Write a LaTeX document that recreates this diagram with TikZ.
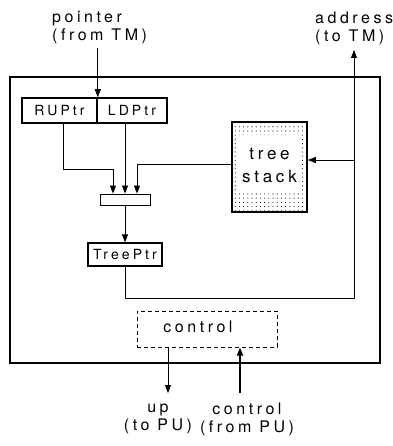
\documentclass[tikz,border=0pt]{standalone}
\usepackage{fontspec}
\setmainfont{TeX Gyre Heros}[LetterSpace=22]
\usetikzlibrary{arrows.meta,patterns.meta}
\begin{document}
\begin{tikzpicture}[x=1pt,y=-1pt,
  font=\fontsize{16}{18}\selectfont,
  arr/.style={-{Triangle[length=8pt,width=6pt]}, line width=0.8pt},
  reg/.style={draw, line width=1.6pt, inner sep=0pt, font=\fontsize{14}{16}\selectfont},
  lbl/.style={align=center, inner sep=0pt},
]
\useasboundingbox (0,0) rectangle (392,446);
% outer box
\node[draw, line width=1.4pt, minimum width=370pt, minimum height=286pt, inner sep=0pt] (outer) at (195,220) {};
% labels
\node[lbl, align=left, anchor=west] (pointer) at (52,28) {pointer\\(from TM)};
\node[lbl, align=left, anchor=west] (address) at (315,28) {address\\(to TM)};
\node[lbl] (up) at (158,419) {up\\(to PU)};
\node[lbl] (ctrlin) at (247,419) {control\\(from PU)};
% registers
\node[reg, minimum width=75pt, minimum height=25pt] (RUPtr) at (59.5,110.5) {RUPtr};
\node[reg, minimum width=70pt, minimum height=25pt] (LDPtr) at (132,110.5) {LDPtr};
\node[reg, minimum width=75pt, minimum height=90pt,
      pattern={Dots[radius=0.55pt, distance=4.2pt]}] (stack) at (269.5,167) {};
\node[fill=white, minimum width=63pt, minimum height=56pt, inner sep=0pt] (stackbg) at (269,163.5) {};
\node[lbl, font=\fontsize{17}{23}\selectfont] (stacktext) at (269.5,165) {tree\\stack};
\node[draw, line width=0.9pt, minimum width=50pt, minimum height=11pt, inner sep=0pt] (mux) at (125,199.5) {};
\node[reg, line width=1.3pt, minimum width=74pt, minimum height=23pt] (TreePtr) at (125,254.5) {TreePtr};
\node[draw, dashed, dash pattern=on 4pt off 3pt, line width=1pt, minimum width=140pt, minimum height=36pt, inner sep=0pt] (ctrl) at (207,329) {};
\node[lbl] (ctrltext) at (198,327) {control};
% coordinates
\coordinate (corner) at (354,298);
\coordinate (addrtip) at (354,50);
\coordinate (branch) at (354,160);
\coordinate (upend) at (168,393);
\coordinate (cstart) at (240,393);
% connectors
\draw[arr] (RUPtr.north east |- 0,48) -- (RUPtr.north east);
\draw[arr] ([xshift=3.5pt]RUPtr.south) |- ([xshift=-12pt]mux.north |- 0,169) -- ([xshift=-12pt]mux.north);
\draw[arr] (mux.north |- LDPtr.south) -- (mux.north);
\draw[arr] ([yshift=3pt]stack.west) -| ([xshift=12pt]mux.north);
\draw[arr] (mux.south) -- (TreePtr.north);
\draw[arr] (TreePtr.south) |- (corner) -- (addrtip);
\draw[arr] (branch) -- (stack.east |- branch);
\draw[arr] (ctrl.south -| upend) -- (upend);
\draw[arr, line width=1.6pt] (cstart) -- (cstart |- ctrl.south);
\end{tikzpicture}
\end{document}
